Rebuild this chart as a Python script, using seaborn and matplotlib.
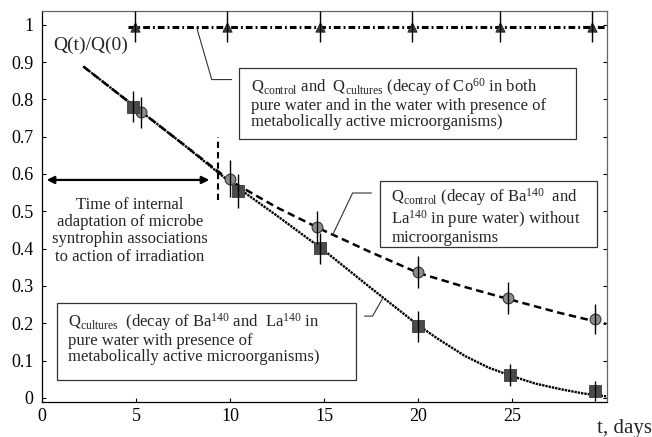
import numpy as np
import pandas as pd
import seaborn as sns
import matplotlib
matplotlib.use('Agg')
import matplotlib.pyplot as plt

# Co60 (control and cultures) - triangles
co_t = [4.95, 9.85, 14.8, 19.7, 24.35, 29.25]
co_q = [0.995, 0.995, 0.995, 0.995, 0.995, 0.995]
co_err = [0.042, 0.042, 0.042, 0.042, 0.042, 0.042]

# Ba140/La140 control (pure water) - circles
ctrl_t = [5.25, 10.0, 14.6, 20.0, 24.8, 29.4]
ctrl_q = [0.765, 0.587, 0.457, 0.337, 0.268, 0.211]
ctrl_err = [0.042, 0.05, 0.045, 0.042, 0.042, 0.04]

# Ba140/La140 cultures - squares
cult_t = [4.85, 10.4, 14.8, 20.0, 24.9, 29.4]
cult_q = [0.78, 0.555, 0.401, 0.192, 0.062, 0.018]
cult_err = [0.042, 0.045, 0.042, 0.042, 0.03, 0.027]

# fitted curves
ctrl_curve_t = [2.2, 5, 7.5, 10, 12.5, 15, 17.5, 20, 22.5, 25, 27.5, 30]
ctrl_curve = [0.888, 0.778, 0.68, 0.582, 0.51, 0.448, 0.39, 0.335, 0.297, 0.262, 0.228, 0.198]
cult_curve_t = [2.2, 5, 7.5, 10, 12.5, 15, 17.5, 20, 21, 22.5, 23.75, 25, 26.25, 27.5, 28.75, 30]
cult_curve = [0.888, 0.778, 0.68, 0.578, 0.488, 0.395, 0.294, 0.195, 0.16, 0.112, 0.081, 0.058, 0.038,
              0.024, 0.012, 0.004]
co_line_t = [4.6, 30]
co_line_q = [0.995, 0.995]

sns.set_style('ticks')
plt.rcParams['font.family'] = ['Liberation Serif', 'DejaVu Serif']
plt.rcParams['mathtext.fontset'] = 'custom'
plt.rcParams['mathtext.rm'] = 'Liberation Serif'
plt.rcParams['mathtext.it'] = 'Liberation Serif:italic'

fig = plt.figure(figsize=(6.52, 4.37), dpi=100)
ax = fig.add_axes([0.0644, 0.0794, 0.8666, 0.8956])

# curves
sns.lineplot(x=ctrl_curve_t, y=ctrl_curve, ax=ax, color='black', lw=1.8,
             linestyle=(0, (3, 1.8)), zorder=2)
sns.lineplot(x=cult_curve_t, y=cult_curve, ax=ax, color='black', lw=1.7,
             linestyle=(0, (1, 0.4)), zorder=2)
sns.lineplot(x=co_line_t, y=co_line_q, ax=ax, color='black', lw=2.2,
             linestyle=(0, (2.2, 1.0, 0.6, 1.0)), zorder=2)

# markers
sns.scatterplot(x=co_t, y=co_q, ax=ax, marker='^', s=45, color='#3c3c3c',
                edgecolor='#222222', linewidth=0.6, zorder=3)
sns.scatterplot(x=ctrl_t, y=ctrl_q, ax=ax, marker='o', s=60, color='#8c8c8c',
                edgecolor='#333333', linewidth=0.8, zorder=3)
sns.scatterplot(x=cult_t, y=cult_q, ax=ax, marker='s', s=80, color='#4a4a4a',
                edgecolor='#3a3a3a', linewidth=0.6, zorder=3)

# error bars
for t, q, e in [(co_t, co_q, co_err), (ctrl_t, ctrl_q, ctrl_err), (cult_t, cult_q, cult_err)]:
    ax.errorbar(t, q, yerr=e, fmt='none', ecolor='black', elinewidth=1.0,
                capsize=0, zorder=4, clip_on=False)

ax.set_xlim(0, 30.05)
ax.set_ylim(-0.012, 1.037)
ax.set_xticks([0, 5, 10, 15, 20, 25])
ax.set_xticklabels(['0', '5', '10', '15', '20', '25'])
ax.set_yticks(np.arange(0, 1.01, 0.1))
ax.set_yticklabels(['0', '0.1', '0.2', '0.3', '0.4', '0.5', '0.6', '0.7', '0.8', '0.9', '1'])
ax.tick_params(direction='in', length=3, width=0.8, labelsize=13, right=True,
               top=False, pad=4, colors='black')
ax.tick_params(axis='y', pad=6)
for s in ax.spines.values():
    s.set_linewidth(0.9)
    s.set_color('black')
ax.spines['top'].set_color('#666666')
ax.spines['right'].set_color('#666666')
ax.set_xlabel('')
ax.set_ylabel('')

ax.text(0.6, 0.946, 'Q(t)/Q(0)', fontsize=14, ha='left', va='center')
fig.text(597 / 652, 1 - 428 / 437, 't, days', fontsize=15, ha='left', va='center')

# adaptation marker
ax.annotate('', xy=(0.25, 0.584), xytext=(8.9, 0.584),
            arrowprops=dict(arrowstyle='<|-|>', color='black', lw=1.6,
                            mutation_scale=11, shrinkA=0, shrinkB=0))
ax.plot([9.38, 9.38], [0.53, 0.70], color='black', lw=1.5, linestyle=(0, (3, 2)))
ax.text(4.67, 0.448, 'Time of internal\nadaptation of microbe\nsyntrophin associations\nto action of irradiation',
        fontsize=12, ha='center', va='center', linespacing=1.12)

# boxes with labels
boxes = [
    ((10.5, 0.694), 17.9, 0.191, (11.13, 0.791),
     r'Q$_{\rm control}$ and  Q$_{\rm cultures}$ (decay of Co$^{60}$ in both' '\n'
     'pure water and in the water with presence of\n'
     'metabolically active microorganisms)'),
    ((18.0, 0.404), 11.5, 0.177, (18.57, 0.4875),
     r'Q$_{\rm control}$ (decay of Ba$^{140}$  and' '\n'
     r'La$^{140}$ in pure water) without' '\n'
     'microorganisms'),
    ((0.8, 0.0475), 15.9, 0.2065, (1.4, 0.1615),
     r'Q$_{\rm cultures}$  (decay of Ba$^{140}$ and  La$^{140}$ in' '\n'
     'pure water with presence of\n'
     'metabolically active microorganisms)'),
]
for (x0, y0), w, h, (tx, ty), label in boxes:
    ax.add_patch(plt.Rectangle((x0, y0), w, h, fill=True, facecolor='white',
                               edgecolor='#333333', lw=0.9, zorder=5))
    ax.text(tx, ty, label, fontsize=12, ha='left', va='center', linespacing=1.0, zorder=6)

# leader lines
leaders = [
    ([8.23, 9.03, 10.09], [0.992, 0.853, 0.853]),
    ([15.45, 16.52, 17.52], [0.436, 0.549, 0.549]),
    ([17.15, 17.58, 18.1], [0.219, 0.219, 0.265]),
]
for lx, ly in leaders:
    ax.plot(lx, ly, color='#333333', lw=0.8, zorder=5)

fig.savefig('out.png', dpi=100)
